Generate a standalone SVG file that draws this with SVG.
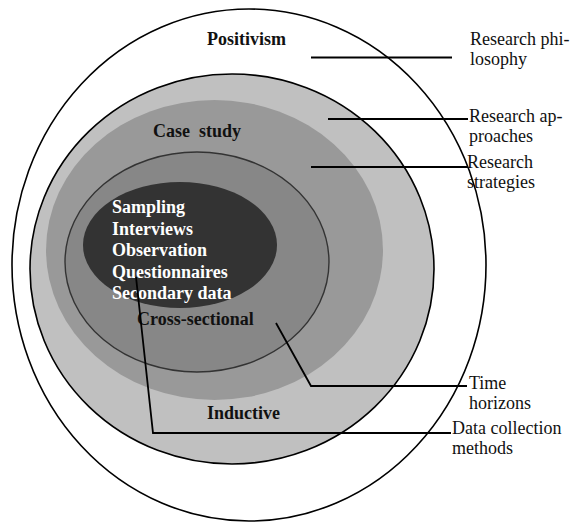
<svg xmlns="http://www.w3.org/2000/svg" width="571" height="523" viewBox="0 0 571 523">
  <style>
    .bold { font-family: "Liberation Serif", "Times New Roman", serif; font-size: 18px; font-weight: bold; }
    .dark { fill: #111111; }
    .light { fill: #ffffff; }
    .label { font-family: "Liberation Serif", "Times New Roman", serif; font-size: 18px; fill: #111111; }
    .leader { fill: none; stroke: #000000; stroke-width: 1.8; }
  </style>
  <rect x="0" y="0" width="571" height="523" fill="#ffffff"/>

  <!-- Layers of the research onion, outermost first -->
  <g id="philosophy-layer">
    <ellipse cx="249" cy="265" rx="237" ry="256" fill="#ffffff" stroke="#000000" stroke-width="1.6"/>
    <text class="bold dark" x="207" y="45">Positivism</text>
  </g>
  <g id="approaches-layer">
    <ellipse cx="232" cy="269" rx="202" ry="195" fill="#c0c0c0" stroke="#000000" stroke-width="1.6"/>
    <text class="bold dark" x="207" y="419">Inductive</text>
  </g>
  <g id="strategies-layer">
    <ellipse cx="214.5" cy="250" rx="168.5" ry="150" fill="#999999"/>
    <text class="bold dark" x="153" y="137" xml:space="preserve">Case  study</text>
  </g>
  <g id="time-horizons-layer">
    <ellipse cx="197" cy="262" rx="132" ry="110" fill="#878787" stroke="#333333" stroke-width="1.4"/>
    <text class="bold dark" x="137" y="325">Cross-sectional</text>
  </g>
  <g id="methods-layer">
    <ellipse cx="180" cy="245" rx="97" ry="63" fill="#333333"/>
    <text class="bold light" x="112">
      <tspan x="112" y="213">Sampling</tspan>
      <tspan x="112" y="234.6">Interviews</tspan>
      <tspan x="112" y="256.2">Observation</tspan>
      <tspan x="112" y="277.8">Questionnaires</tspan>
      <tspan x="112" y="299.4">Secondary data</tspan>
    </text>
  </g>

  <!-- Leader lines to the layer names -->
  <g id="connectors">
    <path class="leader" d="M311 57.5 H452"/>
    <path class="leader" d="M328 119 H468"/>
    <path class="leader" d="M311 167 H468"/>
    <path class="leader" d="M276 323 L311 386 H467"/>
    <path class="leader" d="M136 277 L153 433 H451"/>
  </g>

  <!-- Layer names -->
  <g id="label-philosophy">
    <text class="label"><tspan x="470" y="45">Research phi-</tspan><tspan x="470" y="65">losophy</tspan></text>
  </g>
  <g id="label-approaches">
    <text class="label"><tspan x="469" y="122">Research ap-</tspan><tspan x="469" y="142">proaches</tspan></text>
  </g>
  <g id="label-strategies">
    <text class="label"><tspan x="467" y="168">Research</tspan><tspan x="467" y="188">strategies</tspan></text>
  </g>
  <g id="label-time">
    <text class="label"><tspan x="469" y="389">Time</tspan><tspan x="469" y="409">horizons</tspan></text>
  </g>
  <g id="label-methods">
    <text class="label"><tspan x="452" y="434">Data collection</tspan><tspan x="452" y="454">methods</tspan></text>
  </g>
</svg>
